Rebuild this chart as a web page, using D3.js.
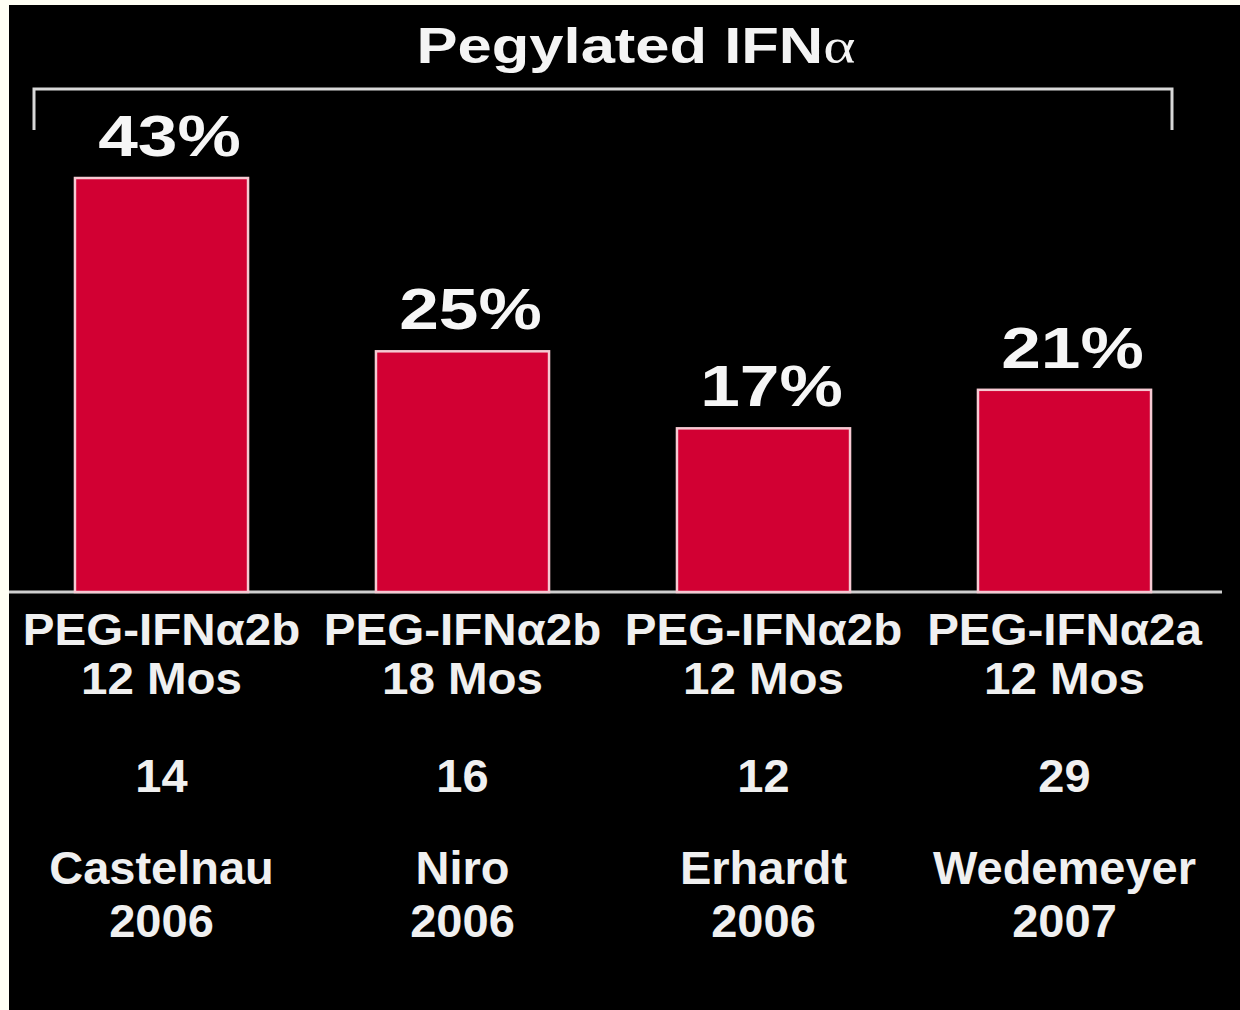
<!DOCTYPE html>
<html lang="en">
<head>
  <meta charset="UTF-8">
  <title>Pegylated IFNα</title>
  <script src="https://d3js.org/d3.v7.min.js"></script>
  <style>
    body {
      margin: 0;
      background-color: #fffff4;
    }
    svg {
      display: block;
      font-family: "Liberation Sans", Arial, sans-serif;
      font-weight: bold;
    }
  </style>
</head>
<body>
  <div id="chart"></div>

  <script>
    // chart values
    const drugs = ["PEG-IFNα2b", "PEG-IFNα2b", "PEG-IFNα2b", "PEG-IFNα2a"];
    const durations = ["12 Mos", "18 Mos", "12 Mos", "12 Mos"];
    const patients = ["14", "16", "12", "29"];
    const authors = ["Castelnau", "Niro", "Erhardt", "Wedemeyer"];
    const years = ["2006", "2006", "2006", "2007"];
    const responses = [43, 25, 17, 21];
    const title = "Pegylated IFNα";

    const width = 1240;
    const height = 1010;
    const baseY = 592;

    const svg = d3.select("#chart")
      .append("svg")
      .attr("width", width)
      .attr("height", height);

    // black slide area
    svg.append("rect")
      .attr("x", 9)
      .attr("y", 5)
      .attr("width", width - 9)
      .attr("height", height - 5)
      .attr("fill", "#000");

    const idx = d3.range(responses.length);

    const x = d3.scaleBand()
      .domain(idx)
      .range([11, 1215])
      .paddingInner(0.425)
      .paddingOuter(0.2125);

    const y = d3.scaleLinear()
      .domain([0, 43])
      .range([baseY, 178]);

    const cx = i => x(i) + x.bandwidth() / 2;

    // title, alpha in a serif face like the slide
    const t = svg.append("text")
      .attr("transform", "translate(636,63) scale(1.23,1)")
      .attr("text-anchor", "middle")
      .attr("font-size", 50)
      .attr("fill", "#f4f4f4");
    t.append("tspan").text(title.replace("α", ""));
    t.append("tspan")
      .attr("font-family", "'Liberation Serif', 'Times New Roman', serif")
      .attr("font-weight", "normal")
      .text("α");

    // bracket over all bars
    svg.append("path")
      .attr("d", `M34,130 V89 H1172 V130`)
      .attr("fill", "none")
      .attr("stroke", "#d8d8d8")
      .attr("stroke-width", 3);

    // baseline
    svg.append("line")
      .attr("x1", 9)
      .attr("x2", 1222)
      .attr("y1", baseY)
      .attr("y2", baseY)
      .attr("stroke", "#cfcfcf")
      .attr("stroke-width", 3);

    // bars
    svg.selectAll(".bar")
      .data(idx)
      .enter()
      .append("rect")
      .attr("class", "bar")
      .attr("x", i => x(i))
      .attr("y", i => y(responses[i]))
      .attr("width", x.bandwidth())
      .attr("height", i => y(0) - y(responses[i]))
      .attr("fill", "#d20033")
      .attr("stroke", "#f6c9d2")
      .attr("stroke-width", 2.5);

    // value labels (sit a little right of the bar centre on the slide)
    svg.selectAll(".val")
      .data(idx)
      .enter()
      .append("text")
      .attr("class", "val")
      .attr("transform", i => `translate(${cx(i) + 8},${y(responses[i]) - 22}) scale(1.25,1)`)
      .attr("text-anchor", "middle")
      .attr("font-size", 57)
      .attr("fill", "#f6f6f6")
      .text(i => responses[i] + "%");

    // label blocks under the bars: each block is one text with its lines as tspans
    const blocks = [
      {lines: [drugs, durations], y: 645, lh: 49.5, size: 44, sx: 1.08},
      {lines: [patients], y: 792, lh: 0, size: 47, sx: 1},
      {lines: [authors, years], y: 884, lh: 53, size: 47, sx: 1}
    ];

    blocks.forEach(b => {
      idx.forEach(i => {
        const txt = svg.append("text")
          .attr("transform", `translate(${cx(i)},0) scale(${b.sx},1)`)
          .attr("text-anchor", "middle")
          .attr("font-size", b.size)
          .attr("fill", "#f0f0f0");
        b.lines.forEach((arr, k) => {
          txt.append("tspan")
            .attr("x", 0)
            .attr("y", b.y + k * b.lh)
            .text(arr[i]);
        });
      });
    });
  </script>
</body>
</html>
